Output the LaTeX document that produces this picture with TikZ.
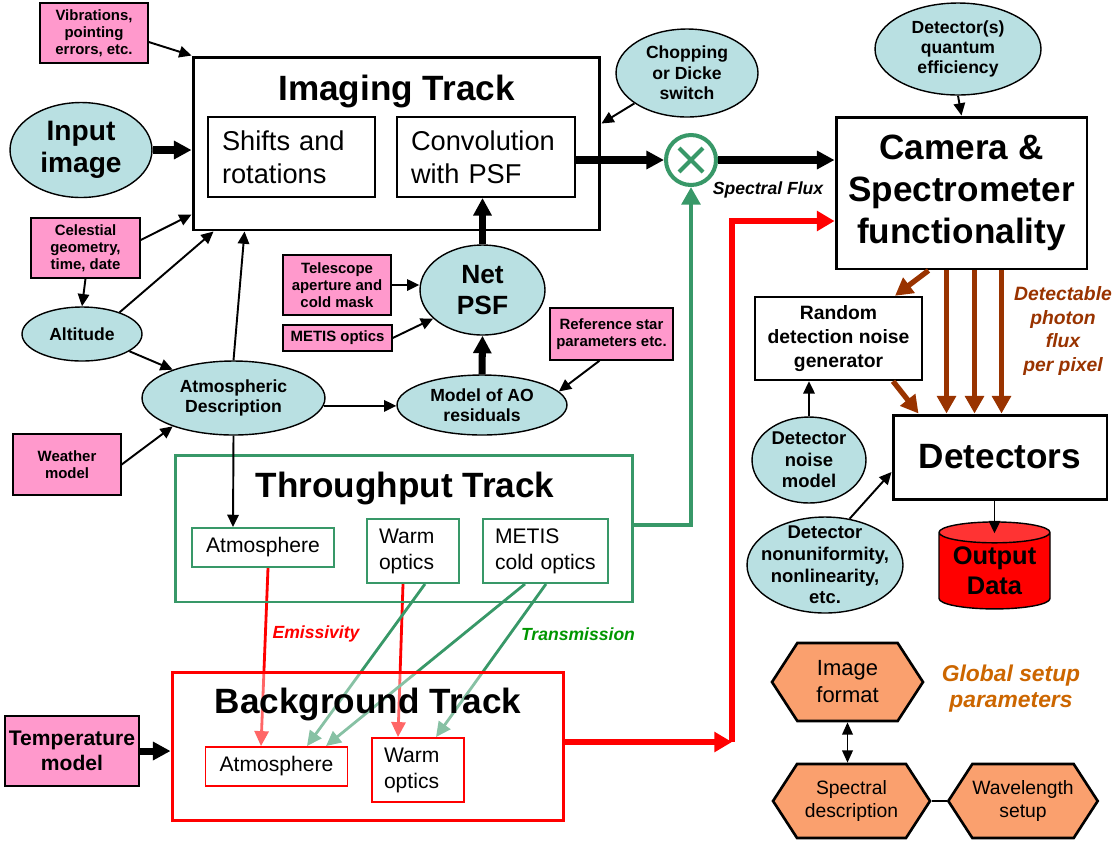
\documentclass[tikz,border=0pt]{standalone}
\usepackage{fontspec}
\setmainfont{Liberation Sans}
\usetikzlibrary{shapes.geometric, shapes.symbols, arrows.meta}

\definecolor{pinkfill}{RGB}{255,153,204}
\definecolor{bluefill}{RGB}{185,224,226}
\definecolor{trackgreen}{RGB}{56,152,104}
\definecolor{hexfill}{RGB}{250,160,110}
\definecolor{fluxbrown}{RGB}{153,51,0}
\definecolor{setuporange}{RGB}{204,102,0}
\definecolor{labelgreen}{RGB}{0,150,0}

\pgfdeclarelayer{lines}
\pgfdeclarelayer{veil}
\pgfsetlayers{lines,veil,main}

\tikzstyle{pinkbox} = [rectangle, draw=black, line width=0.8pt, fill=pinkfill, align=center, inner sep=0pt, font=\bfseries\fontsize{8.5}{9.6}\selectfont]
\tikzstyle{blueell} = [ellipse, draw=black, line width=0.8pt, fill=bluefill, align=center, inner sep=-14pt, font=\bfseries\fontsize{10}{11.6}\selectfont]
\tikzstyle{trackbox} = [rectangle, line width=1.7pt, draw=black, inner sep=0pt, align=center]
\tikzstyle{tracktitle} = [anchor=base, font=\bfseries\fontsize{20}{24}\selectfont]
\tikzstyle{inbox} = [rectangle, line width=1.1pt, draw=black, fill=white, inner sep=0pt, align=left, font=\fontsize{15.5}{19}\selectfont]
\tikzstyle{smallin} = [inbox, font=\fontsize{12}{14.8}\selectfont]
\tikzstyle{hexa} = [signal, signal to=west and east, signal pointer angle=114, draw=black, line width=1.5pt, fill=hexfill, align=center, inner sep=0pt, font=\fontsize{11}{13}\selectfont]
\tikzstyle{flowlabel} = [align=center, font=\bfseries\itshape\fontsize{10}{12}\selectfont]
\tikzstyle{arrow} = [line width=1.1pt,-{Triangle[length=7pt,width=6.5pt]}]
\tikzstyle{arrowboth} = [line width=1.1pt,{Triangle[length=7pt,width=6pt]}-{Triangle[length=7pt,width=6pt]}]
\tikzstyle{fatarrow} = [line width=4pt,-{Triangle[length=10pt,width=10pt]}]
\tikzstyle{greenarrow} = [line width=2.4pt,trackgreen,-{Triangle[length=10pt,width=10.5pt]}]
\tikzstyle{brownarrow} = [line width=3pt,fluxbrown,-{Triangle[length=10pt,width=10.5pt]}]
\tikzstyle{redfat} = [line width=3.6pt,red,-{Triangle[length=10pt,width=11pt]}]
\tikzstyle{emline} = [line width=1.6pt,red,-{Triangle[length=8.5pt,width=8pt]}]
\tikzstyle{trline} = [line width=1.6pt,trackgreen,-{Triangle[length=8.5pt,width=8pt]}]

\begin{document}
\begin{tikzpicture}[x=0.02cm, y=-0.02cm]
\useasboundingbox (0,0) rectangle (1118,840);

%% imaging track and its inputs
\node (imgtrack) [trackbox, minimum width=8.14cm, minimum height=3.46cm] at (396.5,143.5) {};
\node (imgtitle) [tracktitle] at (396.5,100) {Imaging Track};
\node (shifts) [inbox, text width=2.78cm, minimum width=3.34cm, minimum height=1.6cm] at (291.5,157) {Shifts and\\rotations};
\node (conv) [inbox, text width=3.0cm, minimum width=3.56cm, minimum height=1.6cm] at (486,157) {Convolution\\with PSF};
\node (chop) [blueell, minimum width=2.84cm, minimum height=1.76cm] at (687,73) {Chopping\\or Dicke\\switch};
\node (ox) [circle, draw=trackgreen, line width=2.3pt, minimum size=1.0cm, inner sep=0pt] at (691,160) {};
\draw [trackgreen, line width=2.3pt] ([shift={(-0.24cm,0.24cm)}]ox.center) -- ([shift={(0.24cm,-0.24cm)}]ox.center);
\draw [trackgreen, line width=2.3pt] ([shift={(-0.24cm,-0.24cm)}]ox.center) -- ([shift={(0.24cm,0.24cm)}]ox.center);
\node (fluxlbl) [flowlabel] at (768,190) {Spectral Flux};

\node (vib) [pinkbox, minimum width=2.16cm, minimum height=1.2cm] at (94,33) {Vibrations,\\pointing\\errors, etc.};
\node (input) [blueell, font=\bfseries\fontsize{16}{18.5}\selectfont, minimum width=2.84cm, minimum height=1.9cm] at (81,150) {Input\\image};
\node (cel) [pinkbox, minimum width=2.18cm, minimum height=1.2cm] at (85.5,248) {Celestial\\geometry,\\time, date};
\node (alt) [blueell, minimum width=2.4cm, minimum height=1.08cm] at (82,334) {Altitude};
\node (atm) [blueell, minimum width=3.66cm, minimum height=1.48cm] at (233.5,398) {Atmospheric\\Description};
\node (weather) [pinkbox, minimum width=2.16cm, minimum height=1.22cm] at (67,464.5) {Weather\\model};
\node (tele) [pinkbox, minimum width=2.16cm, minimum height=1.2cm] at (337,285) {Telescope\\aperture and\\cold mask};
\node (metopt) [pinkbox, minimum width=2.18cm, minimum height=0.52cm] at (337.5,338) {METIS optics};
\node (netpsf) [blueell, font=\bfseries\fontsize{15}{18}\selectfont, minimum width=2.5cm, minimum height=1.8cm] at (482.5,290) {Net\\PSF};
\node (ao) [blueell, minimum width=3.4cm, minimum height=1.2cm] at (482,405) {Model of AO\\residuals};
\node (refstar) [pinkbox, minimum width=2.46cm, minimum height=1.04cm] at (611.5,334) {Reference star\\parameters etc.};

%% throughput and background tracks
\node (thru) [trackbox, draw=trackgreen, minimum width=9.16cm, minimum height=2.94cm] at (404,528.5) {};
\node (thrutitle) [tracktitle] at (405,497) {Throughput Track};
\node (tatm) [smallin, draw=trackgreen, align=center, minimum width=2.84cm, minimum height=0.78cm] at (263,547.5) {Atmosphere};
\node (twarm) [smallin, draw=trackgreen, text width=1.36cm, minimum width=1.84cm, minimum height=1.28cm] at (413,551) {Warm\\optics};
\node (tcold) [smallin, draw=trackgreen, text width=2.02cm, minimum width=2.5cm, minimum height=1.28cm] at (545.5,551) {METIS\\cold optics};

\node (bg) [trackbox, draw=red, minimum width=7.84cm, minimum height=2.96cm] at (368,746) {};
\node (bgtitle) [tracktitle] at (368,713) {Background Track};
\node (batm) [smallin, draw=red, align=center, minimum width=2.84cm, minimum height=0.78cm] at (276.5,766.5) {Atmosphere};
\node (bwarm) [smallin, draw=red, text width=1.36cm, minimum width=1.84cm, minimum height=1.28cm] at (418,770) {Warm\\optics};
\node (temp) [pinkbox, font=\bfseries\fontsize{12}{14.5}\selectfont, minimum width=2.68cm, minimum height=1.4cm] at (72,751) {Temperature\\model};
\node (emlbl) [flowlabel, text=red] at (316,634) {Emissivity};
\node (trlbl) [flowlabel, text=labelgreen] at (578,634) {Transmission};

%% camera and detectors
\node (cam) [trackbox, font=\bfseries\fontsize{20}{24}\selectfont, minimum width=5.02cm, minimum height=3.04cm] at (961.5,193) {Camera \&\\Spectrometer\\functionality};
\node (qe) [blueell, minimum width=3.32cm, minimum height=1.84cm] at (958,49) {Detector(s)\\quantum\\efficiency};
\node (rand) [trackbox, line width=1.4pt, font=\bfseries\fontsize{11}{13.4}\selectfont, minimum width=3.34cm, minimum height=1.66cm] at (838.5,338.5) {Random\\detection noise\\generator};
\node (det) [trackbox, font=\bfseries\fontsize{20}{24}\selectfont, minimum width=4.28cm, minimum height=1.68cm] at (1000,457) {Detectors};
\node (dnoise) [blueell, font=\bfseries\fontsize{10.5}{12.2}\selectfont, minimum width=2.28cm, minimum height=1.72cm] at (809,460) {Detector\\noise\\model};
\node (dnonu) [blueell, font=\bfseries\fontsize{10.5}{12.3}\selectfont, minimum width=3.12cm, minimum height=1.92cm] at (825,565) {Detector\\nonuniformity,\\nonlinearity,\\etc.};
\node (outdata) [cylinder, shape border rotate=90, aspect=0.25, draw=black, line width=0.8pt, cylinder uses custom fill, cylinder body fill=red, cylinder end fill=red!80, minimum width=2.22cm, minimum height=1.74cm, inner sep=0pt, align=center, font=\bfseries\fontsize{14.5}{17}\selectfont] at (994.5,571) {Output\\Data};
\node (detlbl) [flowlabel, text=fluxbrown, font=\bfseries\itshape\fontsize{11}{13.3}\selectfont] at (1063,331) {Detectable\\photon\\flux\\per pixel};

%% global setup
\node (imgfmt) [hexa, font=\fontsize{12.5}{15.4}\selectfont, minimum width=3.02cm, minimum height=1.56cm] at (847.5,682) {Image\\format};
\node (specdesc) [hexa, minimum width=3.14cm, minimum height=1.48cm] at (851.5,801) {Spectral\\description};
\node (wavelen) [hexa, minimum width=2.96cm, minimum height=1.48cm] at (1023,801) {Wavelength\\setup};
\node (globlbl) [flowlabel, text=setuporange, font=\bfseries\itshape\fontsize{13}{14.8}\selectfont] at (1011,689) {Global setup\\parameters};

%% arrows
\draw [arrow] ([yshift=-0.18cm]vib.east) -- (imgtrack.north west);
\draw [fatarrow] (input.east) -- (input.east -| imgtrack.west);
\draw [arrow] ([yshift=0.16cm]cel.east) -- ([yshift=0.34cm]imgtrack.south west);
\draw [arrow] (cel.south) -- (alt.north);
\draw [arrow] (alt.30) -- ([xshift=0.44cm]imgtrack.south west);
\draw [arrow] (alt.-20) -- (atm.155);
\draw [arrow] (atm.north) -- ([xshift=1.06cm]imgtrack.south west);
\draw [arrow] (weather.east) -- (atm.205);
\draw [arrow] (atm.-5) -- (atm.-5 -| ao.west);
\draw [arrow] (atm.south) -- ([xshift=-0.6cm]tatm.north);
\draw [arrow] (tele.east) -- (tele.east -| netpsf.west);
\draw [arrow] (metopt.east) -- (netpsf.210);
\draw [fatarrow] (ao.north) -- (netpsf.south);
\draw [arrow] ([xshift=-0.24cm]refstar.south) -- (ao.10);
\draw [fatarrow] (netpsf.north) -- (netpsf.north |- conv.south);
\draw [fatarrow] (conv.east |- ox.west) -- (ox.west);
\draw [fatarrow] (ox.east) -- (ox.east -| cam.west);
\draw [arrow] (chop.210) -- ([yshift=-1.36cm]imgtrack.north east);
\draw [arrow] (qe.south) -- (cam.north);
\draw [greenarrow] ([yshift=0.07cm]thru.east) -| (ox.south);
\draw [fatarrow] (temp.east) -- (temp.east -| bg.west);

\coordinate (redjoin) at (732,742);
\draw [redfat] (bg.east |- redjoin) -- (redjoin);
\draw [redfat] (redjoin) |- ([yshift=-0.56cm]cam.west);

\begin{pgfonlayer}{lines}
\draw [emline] ([xshift=0.1cm]tatm.south) -- ([xshift=-0.31cm]batm.north);
\draw [emline] ([xshift=-0.2cm]twarm.south) -- ([xshift=-0.4cm]bwarm.north);
\draw [trline] ([xshift=0.24cm]twarm.south) -- ([xshift=0.61cm]batm.north);
\draw [trline] ([xshift=-0.41cm]tcold.south) -- ([xshift=0.99cm]batm.north);
\draw [trline] ([xshift=0.01cm]tcold.south) -- ([xshift=0.36cm]bwarm.north);
\end{pgfonlayer}
\begin{pgfonlayer}{veil}
\fill [white, opacity=0.4] (bg.south west) rectangle (bg.north east);
\end{pgfonlayer}

\draw [brownarrow] ([xshift=1.88cm]cam.south west) -- ([xshift=1.13cm]rand.north);
\foreach \dx in {2.24,2.8,3.34}
  \draw [brownarrow] ([xshift=\dx cm]cam.south west) -- ([xshift=\dx cm]cam.south west |- det.north);
\draw [brownarrow] ([xshift=1.09cm]rand.south) -- ([xshift=0.54cm]det.north west);
\draw [arrow] (dnoise.north) -- (dnoise.north |- rand.south);
\draw [arrow] (dnonu.62) -- ([yshift=-0.3cm]det.west);
\draw [arrow] (outdata.north |- det.south) -- ([yshift=-0.24cm]outdata.north);
\draw [arrowboth] (imgfmt.south) -- (imgfmt.south |- specdesc.north);
\draw [line width=1.5pt] (specdesc.east) -- (wavelen.west);

\end{tikzpicture}
\end{document}
